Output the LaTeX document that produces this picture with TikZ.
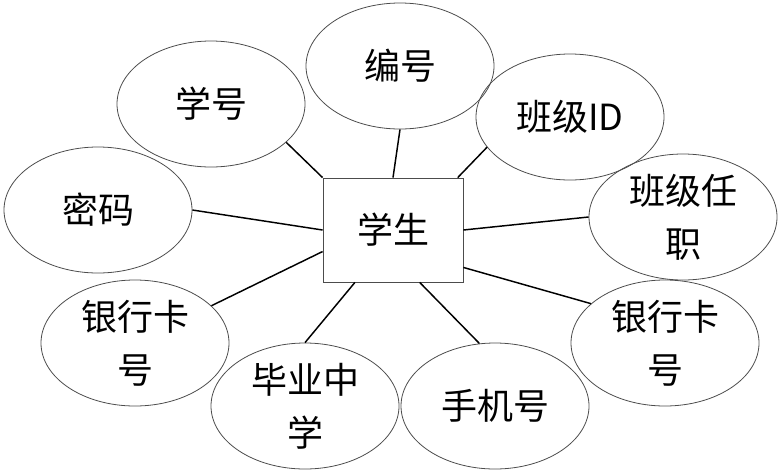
\documentclass[tikz,border=0pt]{standalone}
\usepackage{fontspec}
\newfontfamily\cjk{Noto Sans CJK SC}
\usetikzlibrary{shapes.geometric}
\begin{document}
\begin{tikzpicture}[x=0.75pt,y=-0.75pt,
		attr/.style={draw=black!70, line width=0.6pt, ellipse, minimum width=141pt,
			minimum height=94.5pt, inner sep=0pt, align=center,
			font=\cjk\fontsize{27}{40}\selectfont},
		entity/.style={draw=black!70, line width=0.6pt, rectangle, minimum width=105pt,
			minimum height=78pt, inner sep=0pt, font=\cjk\fontsize{27}{40}\selectfont},
		link/.style={line width=1.1pt}]
	\useasboundingbox (0,0) rectangle (781,472);
	\node[entity] (stu) at (393,230) {学生};
	\node[attr] (bh) at (400,66) {编号};
	\node[attr] (xh) at (211,104) {学号};
	\node[attr] (bj) at (570,117) {班级ID};
	\node[attr] (mm) at (98,210) {密码};
	\node[attr] (rz) at (683,217) {班级任\\职};
	\node[attr] (yl) at (135,343) {银行卡\\号};
	\node[attr] (yr) at (665,343) {银行卡\\号};
	\node[attr] (by) at (305,406) {毕业中\\学};
	\node[attr] (sj) at (495,406) {手机号};
	\draw[link] (xh.-27) -- (stu.north west);
	\draw[link] (mm.east) -- (stu.west);
	\draw[link] (bh.south) -- (stu.north);
	\draw[link] (bj.200) -- (stu.39);
	\draw[link] (stu.east) -- (rz.west);
	\draw[link] (stu.197) -- (yl);
	\draw[link] (stu.234) -- (by.north);
	\draw[link] (stu.-63) -- (sj.104);
	\draw[link] (stu.-28) -- (yr.152);
\end{tikzpicture}
\end{document}
